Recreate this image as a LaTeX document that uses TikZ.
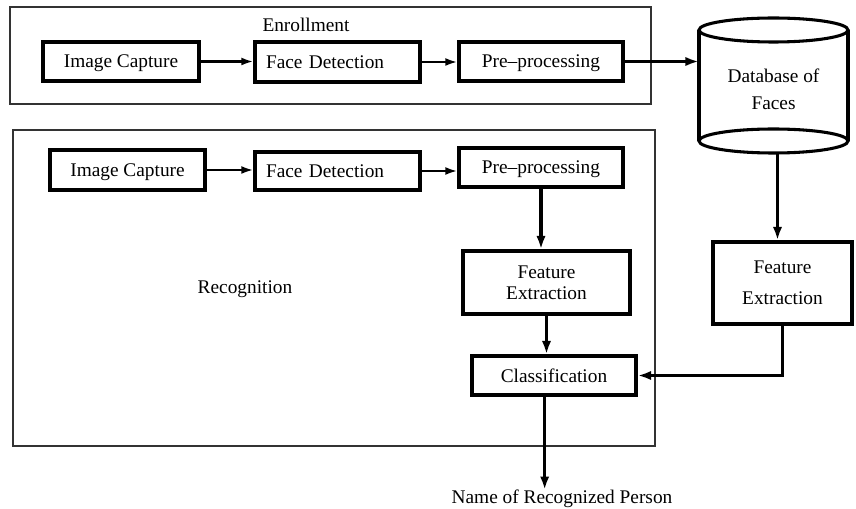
\documentclass[tikz,border=0pt]{standalone}
\usepackage{fontspec}
\setmainfont{Liberation Serif}
\usetikzlibrary{arrows.meta}
\begin{document}
\begin{tikzpicture}[x=0.75pt,y=-0.75pt,
  font=\fontsize{14.5}{17}\selectfont,
  blk/.style={draw,line width=2.6pt,inner sep=0pt,align=center,text depth=0pt},
  grp/.style={draw=black!80,line width=0.8pt},
  arr/.style={line width=1.6pt,-{Latex[length=9pt,width=6pt]}},
  arrb/.style={line width=2.4pt,-{Latex[length=10pt,width=7pt]}},
  lbl/.style={inner sep=0pt}]
\useasboundingbox (0,0) rectangle (856,509);
% group frames
\draw[grp] (10,7) rectangle (651,104);
\draw[grp] (13,130) rectangle (655,446);
\node[lbl] (enr) at (306,25) {Enrollment};
\node[lbl] (rec) at (245,289) {Recognition};
% enrollment row
\node[blk,minimum width=117pt,minimum height=29.25pt] (ic1) at (121,61.5) {Image Capture};
\node[blk,minimum width=123.75pt,minimum height=30pt,text width=107.25pt,inner xsep=8.25pt,align=left] (fd1) at (337.5,62) {Face Detection};
\node[blk,minimum width=123pt,minimum height=29.25pt] (pp1) at (541,61.5) {Pre--processing};
% database cylinder
\node[minimum width=111.75pt,minimum height=96pt,inner sep=0pt,align=center,text depth=0pt] (db) at (773.5,89) {Database of\\[3pt]Faces};
\draw[line width=2.3pt] (773.5,30) ellipse [x radius=55.875pt, y radius=9pt];
\draw[line width=2.3pt] (773.5,141) ellipse [x radius=55.875pt, y radius=9pt];
\draw[line width=2.3pt] (699,30) -- (699,141) (848,30) -- (848,141);
% recognition row
\node[blk,minimum width=116.25pt,minimum height=30pt] (ic2) at (127.5,170) {Image Capture};
\node[blk,minimum width=123.75pt,minimum height=28.5pt,text width=107.25pt,inner xsep=8.25pt,align=left] (fd2) at (337.5,171) {Face Detection};
\node[blk,minimum width=123pt,minimum height=29.25pt] (pp2) at (541,167.5) {Pre--processing};
\node[blk,minimum width=125.25pt,minimum height=47.25pt,font=\fontsize{14.5}{15.5}\selectfont] (fe1) at (546.5,282.5) {Feature\\Extraction};
\node[blk,minimum width=123pt,minimum height=29.25pt] (cl) at (554,375.5) {Classification};
\node[blk,minimum width=104.25pt,minimum height=61.5pt,font=\fontsize{14.5}{23}\selectfont] (fe2) at (782.5,283) {Feature\\Extraction};
\node[lbl] (name) at (562,499) {Name of Recognized Person};
% connectors
\draw[arr] (ic1.east) -- (ic1.east -| fd1.west);
\draw[arr] (fd1.east) -- (fd1.east -| pp1.west);
\draw[arrb] (pp1.east) -- (pp1.east -| db.west);
\draw[arr] (ic2.east) -- (ic2.east -| fd2.west);
\draw[arr] (fd2.east) -- (fd2.east -| pp2.west);
\draw[arrb] (pp2.south) -- (pp2.south |- fe1.north);
\draw[arrb] (fe1.south) -- (fe1.south |- cl.north);
\draw[arrb] ([xshift=3pt]db.south) -- ([xshift=3pt]db.south |- fe2.north);
\draw[arrb] (fe2.south) |- (cl.east);
\draw[arrb] ([xshift=-7pt]cl.south) -- ([xshift=-7pt]cl.south |- name.north);
\end{tikzpicture}
\end{document}
